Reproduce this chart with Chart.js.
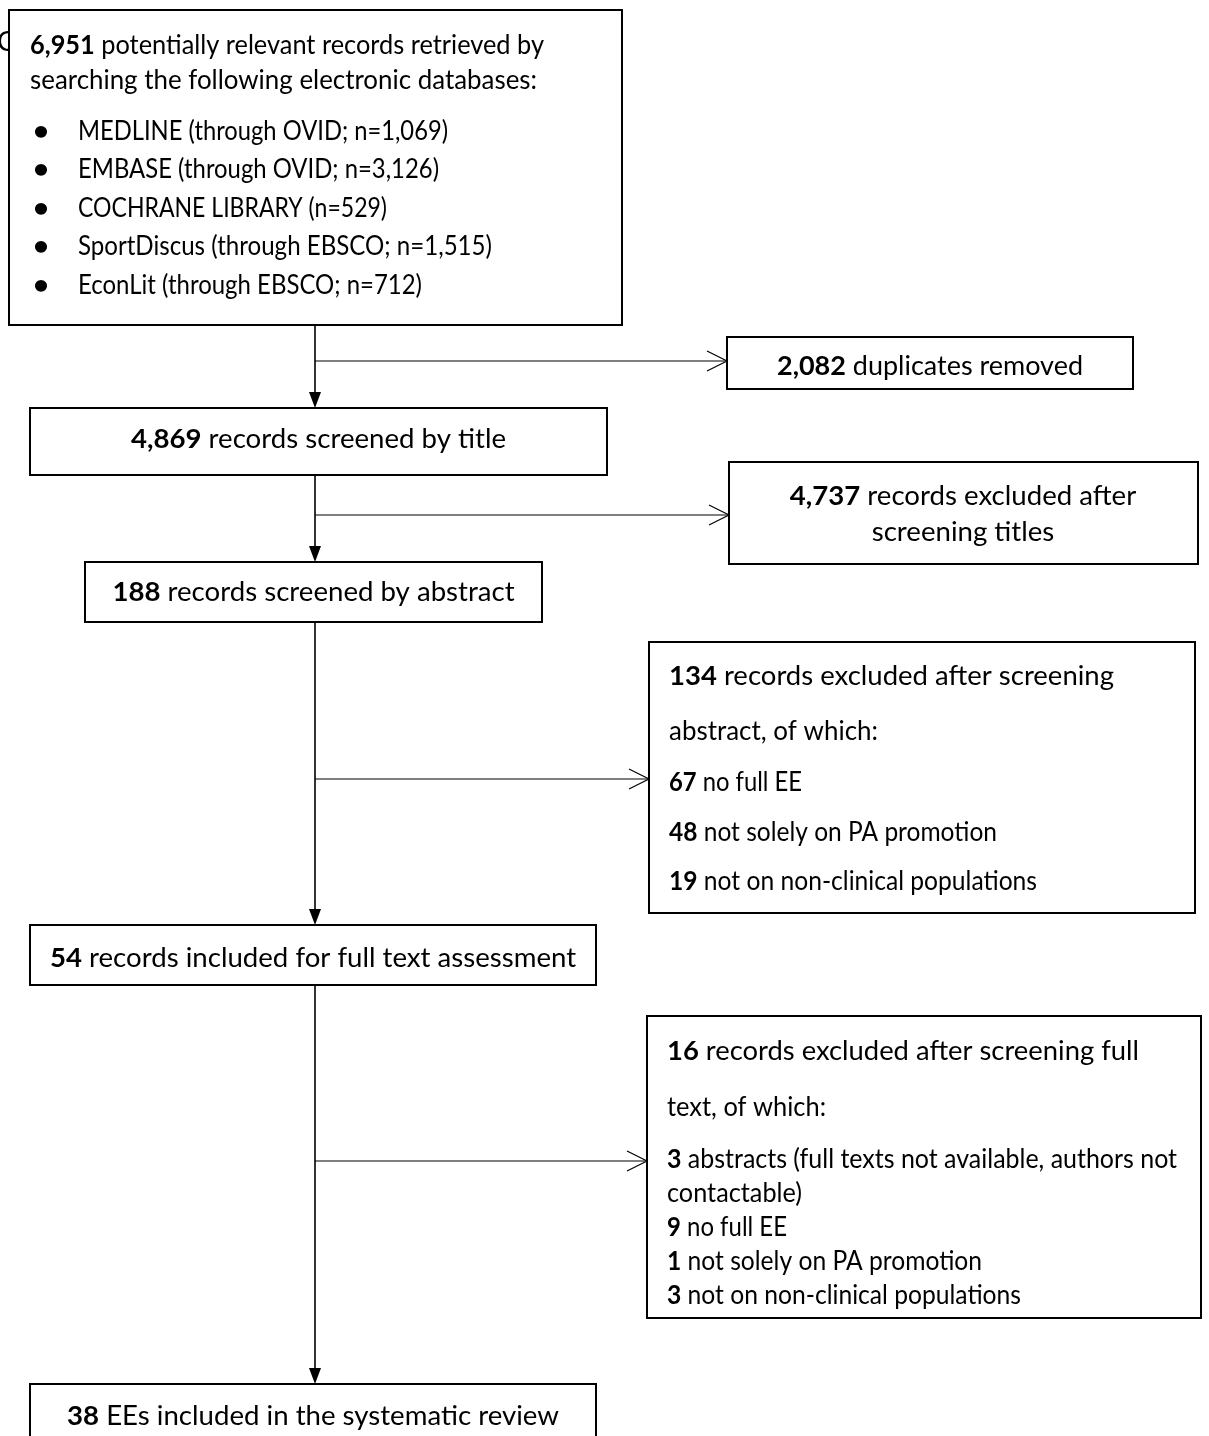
<!DOCTYPE html>
<html>
<head>
<meta charset="utf-8">
<script src="https://cdn.jsdelivr.net/npm/chart.js@4/dist/chart.umd.min.js"></script>
<style>
  html, body { margin: 0; padding: 0; background: #fff; }
  canvas { display: block; }
</style>
</head>
<body>
<canvas id="flow" width="1209" height="1436"></canvas>
<script>
// ---- data ----
var databaseNames = [
  "MEDLINE (through OVID; n=",
  "EMBASE (through OVID; n=",
  "COCHRANE LIBRARY (n=",
  "SportDiscus (through EBSCO; n=",
  "EconLit (through EBSCO; n="
];
var databaseCounts = [1069, 3126, 529, 1515, 712];

var stageCounts = [6951, 4869, 188, 54, 38];
var stageLabels = [
  " potentially relevant records retrieved by",
  " records screened by title",
  " records screened by abstract",
  " records included for full text assessment",
  " EEs included in the systematic review"
];

var excludedCounts = [2082, 4737, 134, 16];
var excludedLabels = [
  " duplicates removed",
  " records excluded after screening titles",
  " records excluded after screening abstract, of which:",
  " records excluded after screening full text, of which:"
];

var abstractReasons = ["no full EE", "not solely on PA promotion", "not on non-clinical populations"];
var abstractReasonCounts = [67, 48, 19];

var fullTextReasons = ["abstracts (full texts not available, authors not contactable)", "no full EE",
  "not solely on PA promotion", "not on non-clinical populations"];
var fullTextReasonCounts = [3, 9, 1, 3];

// ---- layout (figure units, same as pixels) ----
var mainX = 315;
var stageBoxes = [
  [9, 10, 622, 325],
  [30, 408, 607, 475],
  [85, 562, 542, 622],
  [30, 925, 596, 985],
  [30, 1384, 596, 1442]
];
var sideBoxes = [
  [727, 337, 1133, 389],
  [729, 462, 1198, 564],
  [649, 642, 1195, 913],
  [647, 1016, 1201, 1318]
];
var branchY = [361, 515, 779, 1161];
// run lengths of the left-aligned lines (the substitute font is wider on caps and l/i/t)
var searchLineWidths = [514, 507];
var bulletLineWidths = [370, 361, 309, 414, 344];
var bulletY = [131, 169, 208, 246, 285];
var abstractHeadWidths = [445, 209];
var abstractLineWidths = [133, 328, 368];
var fullHeadWidths = [472, 159];
var fullLineWidths = [510, 135, 120, 315, 354];

var FONT = "Lato, 'Open Sans', sans-serif";
var SIZE = 27;

function fmt(n) { return n.toLocaleString("en-US"); }

var flowPlugin = {
  id: "flow",
  afterDraw: function(chart) {
    var ctx = chart.ctx;
    var xs = chart.scales.x, ys = chart.scales.y;
    function X(v) { return xs.getPixelForValue(v); }
    function Y(v) { return ys.getPixelForValue(v); }

    // horizontal stretch so the substitute font runs like Calibri
    ctx.font = "bold " + SIZE + "px " + FONT;
    var w0 = ctx.measureText("4,869").width;
    ctx.font = SIZE + "px " + FONT;
    w0 += ctx.measureText(" records screened by title").width;
    var sx = 375 / w0;

    function natWidth(runs) {
      var w = 0;
      runs.forEach(function(r) {
        ctx.font = (r.b ? "bold " : "") + SIZE + "px " + FONT;
        w += ctx.measureText(r.t).width;
      });
      return w;
    }
    function runWidth(runs) { return natWidth(runs) * sx; }
    // fit: exact run length in px
    function drawRuns(runs, x, y, align, fit) {
      var k = fit ? fit / natWidth(runs) : sx;
      var w = natWidth(runs) * k;
      var px = align === "center" ? X(x) - w / 2 : X(x);
      ctx.save();
      ctx.fillStyle = "#000";
      ctx.textBaseline = "middle";
      ctx.textAlign = "left";
      ctx.translate(px, Y(y));
      ctx.scale(k, 1);
      var cx = 0;
      runs.forEach(function(r) {
        ctx.font = (r.b ? "bold " : "") + SIZE + "px " + FONT;
        ctx.fillText(r.t, cx, 0);
        cx += ctx.measureText(r.t).width;
      });
      ctx.restore();
    }
    function wrap(count, text, maxW) {
      var words = text.split(" ");
      var lines = [];
      var cur = [{ b: true, t: count }, { t: "" }];
      words.forEach(function(wd) {
        var last = cur[cur.length - 1];
        var trial = last.t + " " + wd;
        var test = cur.slice(0, -1).concat([{ t: trial }]);
        if (runWidth(test) > maxW && last.t !== "") {
          lines.push(cur);
          cur = [{ t: wd }];
        } else {
          last.t = (cur.length === 1 && last.t === "") ? wd : trial;
        }
      });
      lines.push(cur);
      return lines;
    }
    function box(b) {
      ctx.save();
      ctx.fillStyle = "#fff";
      ctx.strokeStyle = "#000";
      ctx.lineWidth = 2;
      ctx.fillRect(X(b[0]), Y(b[1]), X(b[2]) - X(b[0]), Y(b[3]) - Y(b[1]));
      ctx.strokeRect(X(b[0]), Y(b[1]), X(b[2]) - X(b[0]), Y(b[3]) - Y(b[1]));
      ctx.restore();
    }
    function line(x0, y0, x1, y1, lw) {
      ctx.save();
      ctx.strokeStyle = "#000";
      ctx.lineWidth = lw || 1.5;
      ctx.beginPath();
      ctx.moveTo(X(x0), Y(y0));
      ctx.lineTo(X(x1), Y(y1));
      ctx.stroke();
      ctx.restore();
    }
    function downArrow(x, yTop, yTip) {
      line(x, yTop, x, yTip - 14, 1.6);
      ctx.save();
      ctx.fillStyle = "#000";
      ctx.beginPath();
      ctx.moveTo(X(x - 6), Y(yTip - 16));
      ctx.lineTo(X(x + 6), Y(yTip - 16));
      ctx.lineTo(X(x), Y(yTip));
      ctx.closePath();
      ctx.fill();
      ctx.restore();
    }
    function sideArrow(x0, x1, y) {
      line(x0, y, x1, y, 1.2);
      ctx.save();
      ctx.strokeStyle = "#000";
      ctx.lineWidth = 1.2;
      ctx.beginPath();
      ctx.moveTo(X(x1 - 20), Y(y - 10));
      ctx.lineTo(X(x1), Y(y));
      ctx.lineTo(X(x1 - 20), Y(y + 10));
      ctx.stroke();
      ctx.restore();
    }

    // stray glyph peeking out behind the first box
    drawRuns([{ t: "C" }], -3, 42, "left");

    // connectors
    downArrow(mainX, stageBoxes[0][3], stageBoxes[1][1]);
    downArrow(mainX, stageBoxes[1][3], stageBoxes[2][1]);
    downArrow(mainX, stageBoxes[2][3], stageBoxes[3][1]);
    downArrow(mainX, stageBoxes[3][3], stageBoxes[4][1]);
    branchY.forEach(function(y, i) { sideArrow(mainX, sideBoxes[i][0], y); });

    stageBoxes.forEach(box);
    sideBoxes.forEach(box);

    // box 1: search results
    drawRuns([{ b: true, t: fmt(stageCounts[0]) }, { t: stageLabels[0] }], 30, 45, "left", searchLineWidths[0]);
    drawRuns([{ t: "searching the following electronic databases:" }], 30, 80, "left", searchLineWidths[1]);
    databaseNames.forEach(function(name, i) {
      drawRuns([{ b: true, t: "\u2022" }], 33, bulletY[i], "left");
      drawRuns([{ t: name + fmt(databaseCounts[i]) + ")" }], 78, bulletY[i], "left", bulletLineWidths[i]);
    });

    // main stages
    var stageTextY = [null, 439, 592, 958, 1416];
    for (var s = 1; s < stageCounts.length; s++) {
      var b = stageBoxes[s];
      drawRuns([{ b: true, t: fmt(stageCounts[s]) }, { t: stageLabels[s] }], (b[0] + b[2]) / 2, stageTextY[s], "center");
    }

    // exclusions
    drawRuns([{ b: true, t: fmt(excludedCounts[0]) }, { t: excludedLabels[0] }], 930, 366, "center", 306);
    drawRuns([{ b: true, t: fmt(excludedCounts[1]) }, { t: " records excluded after" }], 963, 496, "center");
    drawRuns([{ t: "screening titles" }], 963, 532, "center");

    drawRuns([{ b: true, t: fmt(excludedCounts[2]) }, { t: " records excluded after screening" }], 669, 676, "left", abstractHeadWidths[0]);
    drawRuns([{ t: "abstract, of which:" }], 669, 731, "left", abstractHeadWidths[1]);
    var absY = [782, 832, 881];
    abstractReasons.forEach(function(r, i) {
      drawRuns([{ b: true, t: String(abstractReasonCounts[i]) }, { t: " " + r }], 669, absY[i], "left", abstractLineWidths[i]);
    });

    drawRuns([{ b: true, t: fmt(excludedCounts[3]) }, { t: " records excluded after screening full" }], 667, 1051, "left", fullHeadWidths[0]);
    drawRuns([{ t: "text, of which:" }], 667, 1107, "left", fullHeadWidths[1]);
    var fy = 1159, li = 0;
    fullTextReasons.forEach(function(r, i) {
      var lines = wrap(String(fullTextReasonCounts[i]), r, 600);
      lines.forEach(function(ln) {
        drawRuns(ln, 667, fy, "left", fullLineWidths[li]);
        fy += 34;
        li++;
      });
    });
  }
};

new Chart(document.getElementById("flow"), {
  type: "scatter",
  data: { datasets: [{ data: [], pointRadius: 0 }] },
  options: {
    responsive: false,
    animation: false,
    layout: { padding: 0 },
    plugins: { legend: { display: false }, tooltip: { enabled: false } },
    scales: {
      x: { type: "linear", min: 0, max: 1209, display: false },
      y: { type: "linear", min: 0, max: 1436, reverse: true, display: false }
    }
  },
  plugins: [flowPlugin]
});
</script>
</body>
</html>
